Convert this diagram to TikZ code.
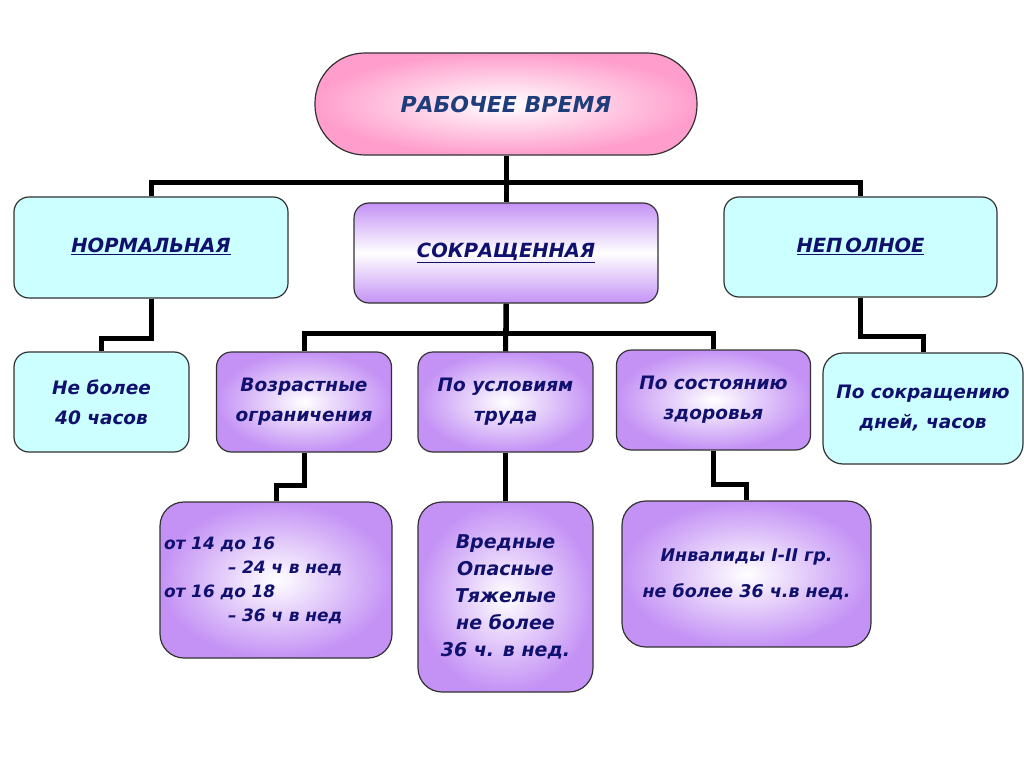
\documentclass[tikz,border=0pt]{standalone}
\usepackage{fontspec}
\setmainfont{DejaVu Sans}
\definecolor{navy}{RGB}{16,16,110}
\definecolor{titleblue}{RGB}{31,61,122}
\definecolor{boxline}{RGB}{50,50,50}
\definecolor{cyanf}{RGB}{204,255,255}
\definecolor{purf}{RGB}{196,146,245}
\definecolor{pinkf}{RGB}{255,158,204}
\tikzset{
  box/.style={draw=boxline, line width=1.2pt, inner sep=0pt, align=center,
    text=navy, font=\bfseries\itshape\fontsize{18.5}{30}\selectfont},
  cyanbox/.style={box, fill=cyanf, rounded corners=15pt},
  purbox/.style={box, shading=radial, inner color=white, outer color=purf, rounded corners=15pt},
  bigbox/.style={purbox, rounded corners=24pt},
  conn/.style={line width=5pt, black}
}
\begin{document}
\begin{tikzpicture}[x=1pt, y=-1pt]
\useasboundingbox (0,0) rectangle (1024,767);
\fill[white] (0,0) rectangle (1024,767);

% top
\node[draw=boxline, line width=1.2pt, rounded corners=50pt, shading=radial, inner color=white, outer color=pinkf,
  minimum width=382pt, minimum height=102pt, inner sep=0pt, text=titleblue,
  font=\bfseries\itshape\fontsize{22}{26}\selectfont] (top) at (506,104) {РАБОЧЕЕ ВРЕМЯ};

% level 2
\node[cyanbox, minimum width=274pt, minimum height=101pt, font=\bfseries\itshape\fontsize{19.5}{24}\selectfont]
  (norm) at (151,247.5) {\raisebox{5pt}{\underline{НОРМАЛЬНАЯ}}};
\node[box, rounded corners=15pt, top color=purf, bottom color=purf, middle color=white,
  minimum width=304pt, minimum height=100pt, font=\bfseries\itshape\fontsize{19.5}{24}\selectfont]
  (sokr) at (506,253) {\raisebox{5pt}{\underline{СОКРАЩЕННАЯ}}};
\node[cyanbox, minimum width=273pt, minimum height=100pt, font=\bfseries\itshape\fontsize{19.5}{24}\selectfont]
  (nep) at (860.5,247) {\raisebox{3pt}{\underline{НЕП\kern3pt ОЛНОЕ}}};

% level 3
\node[cyanbox, minimum width=175pt, minimum height=100pt] (nb) at (101.5,402) {Не более\\40 часов};
\node[purbox, minimum width=175pt, minimum height=100pt] (vozr) at (304,402) {Возрастные\\ограничения};
\node[purbox, minimum width=175pt, minimum height=100pt] (usl) at (505.5,402) {По условиям\\труда};
\node[purbox, minimum width=194pt, minimum height=100pt] (zdor) at (713.5,400) {По состоянию\\здоровья};
\node[cyanbox, minimum width=200pt, minimum height=111pt, rounded corners=20pt] (psk) at (923,408.5) {По сокращению\\дней, часов};

% level 4
\node[bigbox, minimum width=232pt, minimum height=156pt, text width=224pt, align=left,
  font=\bfseries\itshape\fontsize{17}{24}\selectfont] (ot) at (276,580)
  {от 14 до 16\\\hspace*{64pt}– 24 ч в нед\\от 16 до 18\\\hspace*{64pt}– 36 ч в нед};
\node[bigbox, minimum width=175pt, minimum height=190pt, font=\bfseries\itshape\fontsize{19}{27}\selectfont]
  (vred) at (505.5,597) {Вредные\\Опасные\\Тяжелые\\не более\\36 ч. в нед.};
\node[bigbox, minimum width=249pt, minimum height=146pt, font=\bfseries\itshape\fontsize{17.5}{36}\selectfont]
  (inv) at (746.5,574) {Инвалиды I-II гр.\\не более 36 ч.в нед.};

% connectors
\draw[conn] (top.south) -- ++(0,27) -| (norm.north);
\draw[conn] (top.south) -- ++(0,27) -| (nep.north);
\draw[conn] (top.south) -- (sokr.north);
\draw[conn] (norm.south) -- ++(0,40) -| (nb.north);
\draw[conn] (nep.south) -- ++(0,39) -| (psk.north);
\draw[conn] (sokr.south) -- ++(0,30) -| (vozr.north);
\draw[conn] (sokr.south) -- ++(0,30) -| (zdor.north);
\draw[conn] (sokr.south) -- (usl.north);
\draw[conn] (vozr.south) -- ++(0,33) -| (ot.north);
\draw[conn] (usl.south) -- (vred.north);
\draw[conn] (zdor.south) -- ++(0,34) -| (inv.north);
\end{tikzpicture}
\end{document}
